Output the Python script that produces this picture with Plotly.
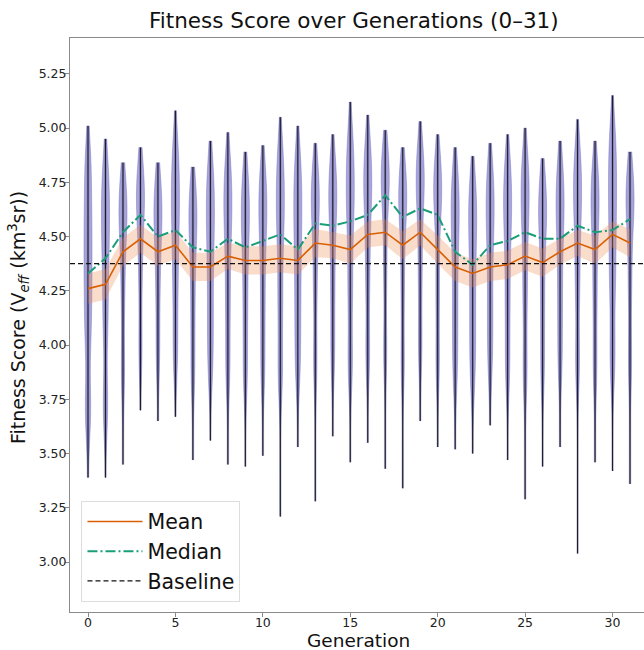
import plotly.graph_objects as go

# ---- data -------------------------------------------------------------
generations = list(range(32))

fit_mean = [4.26, 4.28, 4.43, 4.49, 4.43, 4.46, 4.36, 4.36, 4.41, 4.39, 4.39, 4.40,
            4.39, 4.47, 4.46, 4.44, 4.51, 4.52, 4.46, 4.52, 4.44, 4.36, 4.33, 4.36,
            4.37, 4.41, 4.38, 4.43, 4.47, 4.44, 4.51, 4.47]
mean_ci = [0.07, 0.07, 0.065, 0.065, 0.065, 0.065, 0.065, 0.065, 0.06, 0.065, 0.065, 0.065,
           0.065, 0.065, 0.06, 0.065, 0.06, 0.06, 0.065, 0.06, 0.065, 0.065, 0.065, 0.065,
           0.065, 0.065, 0.065, 0.06, 0.06, 0.065, 0.06, 0.065]
fit_median = [4.33, 4.40, 4.52, 4.60, 4.50, 4.53, 4.45, 4.43, 4.49, 4.45, 4.48, 4.51,
              4.44, 4.56, 4.55, 4.57, 4.60, 4.69, 4.59, 4.63, 4.60, 4.43, 4.37, 4.46,
              4.48, 4.52, 4.49, 4.49, 4.55, 4.52, 4.53, 4.58]
fit_min = [3.39, 3.39, 3.45, 3.70, 3.65, 3.67, 3.47, 3.56, 3.45, 3.44, 3.49, 3.21,
           3.53, 3.28, 3.58, 3.46, 3.55, 3.43, 3.34, 3.65, 3.53, 3.52, 3.50, 3.63,
           3.47, 3.29, 3.44, 3.53, 3.04, 3.46, 3.42, 3.36]
fit_max = [5.01, 4.95, 4.84, 4.91, 4.84, 5.08, 4.82, 4.94, 4.98, 4.89, 4.92, 5.05,
           5.01, 4.93, 4.97, 5.12, 5.06, 4.99, 4.91, 5.03, 4.97, 4.91, 4.87, 4.93,
           4.97, 5.00, 4.86, 4.94, 5.04, 4.94, 5.15, 4.89]
fit_q05 = [3.70, 3.72, 3.88, 3.98, 3.96, 3.97, 3.88, 3.92, 3.90, 3.88, 3.90, 3.88,
           3.92, 3.92, 3.96, 3.92, 3.96, 3.97, 3.92, 4.00, 3.92, 3.90, 3.88, 3.94,
           3.90, 3.88, 3.90, 3.94, 3.92, 3.90, 3.94, 3.92]
fit_q25 = [4.08, 4.12, 4.25, 4.33, 4.26, 4.28, 4.18, 4.17, 4.21, 4.18, 4.20, 4.21,
           4.19, 4.28, 4.27, 4.27, 4.32, 4.36, 4.28, 4.34, 4.26, 4.16, 4.12, 4.19,
           4.20, 4.23, 4.20, 4.22, 4.28, 4.23, 4.28, 4.29]
fit_q75 = [4.56, 4.60, 4.64, 4.70, 4.64, 4.70, 4.61, 4.62, 4.66, 4.62, 4.64, 4.68,
           4.64, 4.69, 4.70, 4.74, 4.76, 4.78, 4.70, 4.78, 4.74, 4.62, 4.58, 4.64,
           4.66, 4.70, 4.64, 4.66, 4.72, 4.68, 4.74, 4.70]
fit_q95 = [4.82, 4.78, 4.70, 4.76, 4.70, 4.88, 4.68, 4.78, 4.80, 4.74, 4.76, 4.86,
           4.82, 4.77, 4.80, 4.92, 4.88, 4.84, 4.76, 4.85, 4.80, 4.75, 4.71, 4.77,
           4.80, 4.82, 4.71, 4.78, 4.85, 4.77, 4.94, 4.74]
baseline = 4.375

x_ticks = [0, 5, 10, 15, 20, 25, 30]
y_ticks = [3.00, 3.25, 3.50, 3.75, 4.00, 4.25, 4.50, 4.75, 5.00, 5.25]

# ---- styles -----------------------------------------------------------
MEAN_C = "#d95f02"
MEDIAN_C = "#1b9e77"
VIOLIN_FILL = "rgba(106,100,192,0.58)"
VIOLIN_EDGE = "rgba(106,100,192,0.70)"
SPINE = "#8a8a8a"
FONT = "DejaVu Sans"
X_RANGE = [-1.03, 31.8]

fig = go.Figure()

# violins: one per generation
for g in generations:
    samples = [fit_q05[g], fit_q25[g], fit_median[g], fit_q75[g], fit_q95[g]]
    fig.add_trace(go.Violin(
        x=[g] * len(samples), y=samples,
        width=0.46, scalemode="width",
        spanmode="manual", span=[fit_min[g], fit_max[g]],
        bandwidth=0.15,
        points=False, box_visible=False, meanline_visible=False,
        fillcolor=VIOLIN_FILL, line=dict(color=VIOLIN_EDGE, width=0.6),
        showlegend=False, hoverinfo="skip",
    ))

# min-to-max bars through each violin (soft halo + dark core)
bar_x, bar_y = [], []
for g in generations:
    bar_x += [g, g, None]
    bar_y += [fit_min[g], fit_max[g], None]
fig.add_trace(go.Scatter(x=bar_x, y=bar_y, mode="lines",
                         line=dict(color="rgba(60,58,110,0.25)", width=2.6),
                         showlegend=False, hoverinfo="skip"))
fig.add_trace(go.Scatter(x=bar_x, y=bar_y, mode="lines",
                         line=dict(color="#1d1d2c", width=1.1),
                         showlegend=False, hoverinfo="skip"))

# shaded band around the mean
upper = [m + c for m, c in zip(fit_mean, mean_ci)]
lower = [m - c for m, c in zip(fit_mean, mean_ci)]
fig.add_trace(go.Scatter(x=generations, y=upper, mode="lines",
                         line=dict(width=0, color=MEAN_C),
                         showlegend=False, hoverinfo="skip"))
fig.add_trace(go.Scatter(x=generations, y=lower, mode="lines",
                         line=dict(width=0, color=MEAN_C),
                         fill="tonexty", fillcolor="rgba(236,140,80,0.30)",
                         showlegend=False, hoverinfo="skip"))

fig.add_trace(go.Scatter(x=generations, y=fit_mean, mode="lines", name="Mean",
                         line=dict(color=MEAN_C, width=1.6)))
fig.add_trace(go.Scatter(x=generations, y=fit_median, mode="lines", name="Median",
                         line=dict(color=MEDIAN_C, width=2, dash="10px,3px,2px,3px")))
fig.add_trace(go.Scatter(x=X_RANGE, y=[baseline, baseline], mode="lines",
                         name="Baseline",
                         line=dict(color="#111111", width=1.3, dash="5px,3px")))

fig.update_layout(
    width=644, height=650,
    margin=dict(l=70, r=0, t=38, b=38),
    paper_bgcolor="white", plot_bgcolor="white",
    violinmode="overlay", violingap=0, violingroupgap=0,
    font=dict(family=FONT, color="#1a1a1a"),
    showlegend=True,
    legend=dict(
        x=0.02, y=0.018, xanchor="left", yanchor="bottom",
        traceorder="normal",
        bgcolor="rgba(255,255,255,0.9)", bordercolor="#dddddd", borderwidth=1,
        font=dict(family=FONT, size=20.5, color="#111111"),
        tracegroupgap=0, itemwidth=55,
    ),
    xaxis=dict(
        range=X_RANGE, tickvals=x_ticks, ticks="outside", ticklen=4,
        tickcolor=SPINE, showline=True, linecolor=SPINE, linewidth=1, mirror=True,
        showgrid=False, zeroline=False, ticklabelstandoff=-5,
        tickfont=dict(size=12.5, color="#222222"),
    ),
    yaxis=dict(
        range=[2.77, 5.415], tickvals=y_ticks, tickformat=".2f", ticks="outside",
        ticklen=4, tickcolor=SPINE, showline=True, linecolor=SPINE, linewidth=1,
        showgrid=False, zeroline=False, ticklabelstandoff=-4,
        tickfont=dict(size=12.5, color="#222222"),
    ),
    annotations=[
        dict(text="Fitness Score over Generations (0–31)", xref="paper", yref="paper",
             x=0.495, y=1.0, yshift=18, xanchor="center", yanchor="middle",
             showarrow=False, font=dict(size=21.5, color="#111111")),
        dict(text="Generation", xref="paper", yref="paper",
             x=0.502, y=0, yshift=-28, xanchor="center", yanchor="middle",
             showarrow=False, font=dict(size=18.5, color="#111111")),
        dict(text="Fitness Score (V<sub><i>eff</i></sub> (km<sup>3</sup>sr))",
             xref="paper", yref="paper", x=0, xshift=-52, y=0.512,
             xanchor="center", yanchor="middle", textangle=-90,
             showarrow=False, font=dict(size=19, color="#111111")),
    ],
)

fig.write_html("out.html")
